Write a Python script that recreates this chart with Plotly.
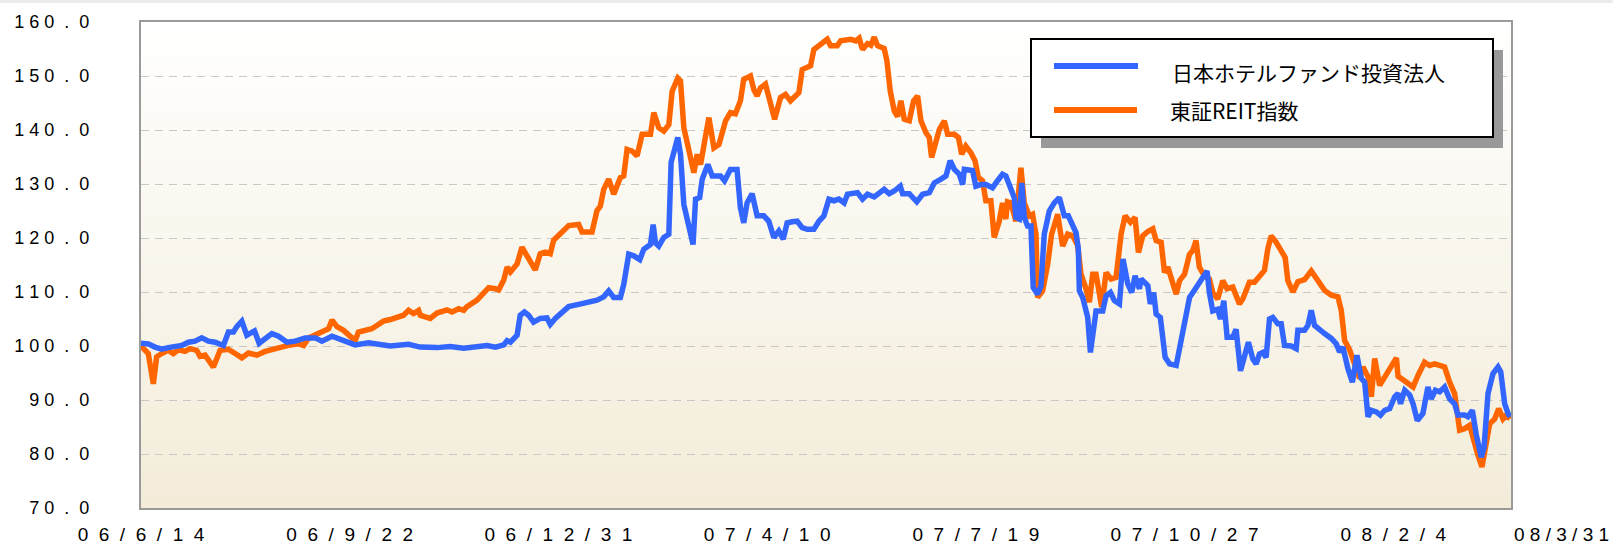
import pandas as pd
import plotly.graph_objects as go

# ---------------- data ----------------
start_date = "2006-06-14"   # day 0 of the horizontal axis

hotel_days = [0, 3.5, 6.7, 9.9, 13.1, 16.3, 19.5, 22.7, 25.9, 29.1, 32.3, 35.5, 39.5, 41.9, 44.3, 45.9, 48.3,
              50.7, 54.4, 56.6, 59.5, 62.7, 65.9, 69.9, 73.9, 78.7, 83.5, 86.7, 91.5, 97.8, 102.6, 109.0,
              113.0, 119.4, 128.2, 133.8, 141.8, 148.2, 154.6, 161.0, 165.8, 169.8, 173.8, 175.4, 177.0,
              180.2, 181.7, 183.7, 185.7, 188.1, 191.3, 194.5, 196.1, 198.5, 201.7, 204.9, 209.7, 213.7,
              218.5, 221.7, 224.1, 226.5, 229.7, 231.3, 233.7, 236.1, 239.0, 240.9, 244.1, 245.4, 246.5,
              248.1, 250.5, 252.9, 254.0, 257.2, 258.5, 260.1, 262.5, 264.5, 265.7, 267.7, 268.9, 271.6,
              273.7, 277.7, 279.6, 282.4, 285.6, 287.2, 288.8, 290.4, 292.8, 295.2, 298.4, 300.8, 303.2,
              305.6, 307.7, 309.6, 312.0, 314.4, 316.8, 319.2, 322.4, 324.8, 327.2, 329.6, 332.0, 334.4,
              336.9, 338.5, 343.3, 345.7, 348.1, 351.3, 356.1, 358.5, 360.9, 363.8, 364.9, 368.1, 371.7,
              374.5, 377.7, 380.1, 383.3, 385.7, 387.7, 389.7, 392.1, 393.7, 394.5, 398.4, 400.0, 402.4,
              404.8, 408.0, 410.4, 412.8, 414.4, 416.8, 418.4, 419.2, 420.8, 422.0, 423.2, 424.8, 426.4,
              427.5, 429.6, 431.2, 432.8, 435.2, 437.6, 440.0, 442.4, 444.3, 446.4, 448.0, 449.1, 449.6,
              451.2, 453.6, 454.9, 456.0, 457.6, 460.8, 462.4, 464.5, 466.4, 468.8, 470.5, 472.8, 474.7,
              476.3, 478.4, 479.2, 482.4, 483.6, 485.2, 486.4, 488.4, 490.7, 492.8, 496.0, 497.6, 499.2,
              502.4, 504.0, 506.3, 507.9, 510.8, 511.9, 513.5, 515.9, 517.2, 518.8, 520.4, 523.1, 524.7,
              526.8, 528.7, 530.6, 532.7, 534.3, 535.9, 537.5, 539.1, 540.7, 542.3, 544.7, 546.3, 547.9,
              551.1, 553.5, 554.3, 557.5, 559.1, 560.7, 562.3, 563.9, 567.1, 570.3, 572.7, 574.3, 575.9,
              578.3, 580.4, 582.6, 584.7, 586.3, 587.9, 589.5, 591.9, 593.9, 595.9, 598.3, 600.7, 602.3,
              603.5, 605.5, 607.9, 609.5, 611.5, 614.2, 616.6, 618.2, 620.2, 622.2, 624.6, 627.0, 629.4,
              631.0, 634.2, 635.8, 637.9, 639.8, 642.2, 643.5, 645.4, 647.8, 650.2, 651.5, 653.4, 655.0,
              656.0]
hotel_values = [100.5, 100.4, 99.8, 99.4, 99.7, 99.9, 100.1, 100.7, 100.9, 101.5, 100.9, 100.7, 100.1, 102.6,
                102.6, 103.6, 104.6, 102.0, 102.8, 100.5, 101.4, 102.3, 101.8, 100.7, 100.9, 101.5, 101.5,
                100.9, 101.8, 101.0, 100.2, 100.6, 100.3, 100.0, 100.3, 99.8, 99.7, 99.9, 99.6, 99.8, 100.1,
                99.8, 100.2, 101.0, 100.7, 102.0, 105.7, 106.3, 105.7, 104.4, 105.1, 105.2, 104.0, 105.1,
                106.1, 107.3, 107.7, 108.1, 108.5, 109.1, 110.2, 109.0, 109.0, 111.4, 117.0, 116.7, 116.0,
                117.9, 118.8, 122.5, 119.1, 118.5, 120.1, 120.7, 134.0, 138.6, 135.5, 126.2, 122.5, 118.8,
                127.2, 127.5, 130.9, 133.6, 131.5, 131.5, 130.6, 132.7, 132.7, 125.6, 122.8, 126.5, 128.2,
                124.1, 124.1, 123.1, 120.1, 121.3, 119.8, 122.8, 123.0, 123.1, 121.9, 121.6, 121.6, 123.1,
                124.1, 127.2, 126.9, 127.2, 126.5, 128.1, 128.4, 127.2, 128.1, 127.6, 129.0, 128.2, 128.7,
                129.6, 128.2, 128.2, 126.7, 128.1, 128.4, 130.2, 130.9, 131.5, 134.3, 132.7, 131.8, 129.9,
                132.7, 132.5, 129.6, 129.9, 129.9, 129.3, 130.6, 131.8, 131.5, 128.7, 127.5, 123.8, 123.5,
                130.2, 123.8, 122.2, 122.2, 110.8, 109.6, 111.1, 120.7, 125.0, 126.5, 127.5, 124.1, 124.1,
                122.3, 121.0, 118.0, 110.2, 109.0, 105.3, 98.8, 102.2, 106.5, 106.5, 109.3, 109.9, 108.4,
                107.8, 116.1, 111.5, 109.9, 113.0, 110.6, 112.4, 111.2, 107.8, 109.9, 105.9, 105.3, 97.9,
                96.7, 96.4, 99.4, 103.1, 109.0, 109.9, 111.2, 112.4, 113.9, 109.9, 106.5, 106.8, 105.0,
                108.4, 101.6, 101.6, 103.1, 95.4, 98.2, 100.7, 97.6, 96.7, 98.5, 98.8, 97.9, 105.0, 105.3,
                104.1, 104.1, 100.1, 100.0, 99.5, 102.9, 102.9, 103.8, 106.6, 103.8, 103.2, 102.3, 101.4,
                100.4, 98.9, 99.8, 95.8, 93.3, 98.3, 94.0, 93.3, 86.9, 88.1, 87.8, 87.2, 88.1, 88.4, 90.6,
                91.2, 89.3, 91.8, 90.9, 89.3, 86.2, 87.5, 92.4, 90.2, 91.8, 91.5, 92.4, 90.2, 89.3, 87.2,
                87.2, 86.9, 88.1, 83.5, 79.4, 81.2, 91.2, 94.9, 96.1, 95.2, 89.3, 87.5, 86.9]

reit_days = [0, 3.5, 5.9, 7.5, 9.9, 13.1, 15.5, 17.9, 21.1, 23.5, 26.7, 28.3, 30.7, 34.7, 37.9, 41.9, 45.1,
             48.3, 51.5, 55.5, 59.5, 64.3, 67.5, 71.5, 75.5, 77.9, 80.3, 84.3, 87.5, 89.9, 91.5, 93.9, 97.0,
             100.2, 102.6, 104.2, 107.4, 110.6, 113.0, 116.2, 119.4, 122.6, 125.8, 128.2, 130.6, 133.0,
             133.8, 136.2, 138.6, 141.8, 146.6, 149.0, 152.2, 154.6, 156.2, 161.0, 164.2, 166.6, 169.8,
             171.4, 173.8, 175.4, 177.0, 180.2, 182.5, 185.7, 188.9, 191.3, 193.7, 196.1, 197.7, 200.9,
             204.9, 209.7, 211.3, 216.1, 218.5, 220.1, 221.7, 224.1, 226.5, 229.7, 231.3, 232.9, 235.3,
             237.7, 240.1, 244.1, 245.7, 248.1, 250.5, 252.9, 254.5, 257.2, 258.5, 260.1, 262.5, 264.9,
             266.5, 268.1, 272.1, 274.5, 276.9, 280.1, 282.4, 284.8, 287.2, 288.8, 292.0, 293.6, 295.2,
             296.8, 299.2, 301.6, 303.6, 306.4, 308.8, 311.2, 315.2, 316.8, 320.8, 322.4, 325.6, 328.8,
             330.4, 333.6, 335.2, 336.9, 340.1, 342.5, 344.1, 345.7, 348.1, 349.7, 351.3, 352.9, 356.1,
             357.4, 359.0, 360.9, 362.5, 364.1, 365.7, 368.1, 370.2, 372.1, 373.7, 376.1, 377.7, 378.8,
             380.1, 382.5, 384.9, 386.5, 389.7, 391.7, 393.2, 395.2, 397.6, 399.6, 401.2, 403.2, 404.8,
             407.2, 408.8, 411.2, 412.8, 414.4, 415.2, 416.8, 419.2, 421.6, 423.2, 425.6, 427.2, 428.8,
             429.6, 432.0, 434.4, 436.3, 439.2, 441.6, 444.0, 446.4, 448.8, 450.4, 452.8, 454.4, 456.0,
             457.6, 460.3, 462.4, 464.8, 467.2, 469.6, 471.5, 474.1, 476.3, 477.9, 480.0, 482.4, 484.8,
             486.4, 488.8, 490.4, 492.0, 494.0, 496.0, 497.6, 500.0, 502.4, 504.0, 505.5, 507.1, 509.5,
             511.9, 513.5, 515.9, 518.3, 520.4, 523.1, 526.3, 527.9, 531.1, 533.5, 535.9, 538.3, 539.9,
             541.5, 543.9, 546.3, 548.2, 549.5, 551.9, 554.3, 557.5, 560.7, 563.9, 567.1, 570.3, 573.5,
             575.1, 576.7, 579.1, 581.5, 583.9, 585.5, 587.9, 589.5, 591.1, 593.5, 596.7, 599.1, 601.5,
             602.3, 606.3, 609.5, 611.9, 615.0, 617.4, 619.8, 622.2, 624.6, 627.0, 629.4, 631.8, 634.2,
             636.6, 639.0, 640.6, 642.5, 643.8, 646.2, 648.6, 650.5, 652.6, 654.2, 656.0]
reit_values = [100.0, 98.6, 93.0, 98.0, 98.6, 99.2, 98.6, 99.3, 99.0, 99.5, 99.2, 98.1, 98.3, 96.1, 99.2, 99.4,
               98.6, 97.8, 98.7, 98.3, 99.0, 99.5, 99.8, 100.2, 100.4, 100.1, 101.5, 102.3, 102.9, 103.2,
               104.8, 103.6, 102.9, 101.7, 101.0, 102.6, 102.9, 103.2, 103.8, 104.6, 104.9, 105.2, 105.7,
               106.6, 106.0, 106.6, 105.7, 105.4, 105.1, 106.1, 106.7, 106.3, 106.9, 106.6, 107.3, 108.5,
               109.7, 110.8, 110.6, 110.4, 112.2, 114.6, 113.7, 115.2, 118.3, 116.2, 114.1, 117.1, 117.4,
               117.1, 119.6, 120.8, 122.3, 122.5, 121.1, 121.1, 125.1, 125.9, 129.0, 130.9, 128.1, 131.2,
               131.5, 136.4, 136.1, 135.2, 139.2, 139.2, 143.2, 140.4, 139.8, 141.0, 147.2, 149.6, 149.1,
               140.4, 136.7, 132.1, 135.5, 133.6, 142.3, 136.7, 137.3, 141.7, 143.2, 143.0, 145.4, 149.4,
               150.0, 147.5, 146.3, 147.8, 148.5, 145.4, 142.0, 146.0, 146.6, 145.4, 146.9, 151.2, 151.9,
               154.9, 155.9, 156.8, 155.6, 155.6, 156.5, 156.6, 156.8, 156.5, 157.0, 154.9, 156.0, 155.7,
               157.2, 155.6, 155.1, 152.8, 147.2, 143.5, 142.5, 145.4, 142.0, 141.7, 145.4, 146.3, 141.7,
               139.5, 138.6, 134.9, 137.0, 140.1, 141.7, 139.2, 139.2, 138.6, 135.5, 137.0, 135.8, 134.3,
               131.2, 130.6, 126.9, 126.9, 120.1, 123.1, 126.5, 123.5, 126.7, 126.5, 123.1, 133.0, 126.5,
               124.1, 124.4, 120.7, 109.0, 110.2, 115.1, 120.7, 124.4, 118.5, 120.7, 120.4, 118.6, 113.3,
               110.6, 108.1, 113.3, 113.3, 107.2, 113.6, 112.4, 112.7, 120.7, 124.1, 122.9, 123.8, 117.3,
               120.4, 121.2, 121.7, 119.5, 119.2, 113.6, 114.6, 112.1, 109.6, 112.1, 113.3, 117.0, 117.7,
               119.5, 114.6, 113.0, 112.4, 109.9, 108.7, 112.1, 110.6, 110.9, 107.8, 108.7, 111.8, 111.8,
               113.0, 114.0, 118.0, 120.4, 119.2, 117.7, 116.4, 112.1, 110.0, 111.9, 112.3, 113.9, 111.9,
               110.3, 109.4, 109.1, 106.6, 101.0, 99.3, 96.4, 94.0, 96.1, 94.3, 90.6, 97.7, 92.7, 94.6,
               96.1, 97.8, 94.4, 93.3, 92.4, 94.6, 97.0, 96.4, 96.7, 96.4, 96.1, 93.3, 91.2, 84.4, 84.7,
               85.3, 81.7, 79.8, 77.6, 80.1, 85.6, 86.5, 88.4, 86.5, 87.2, 86.5]

series_names = ["日本ホテルファンド投資法人", "東証REIT指数"]
x_tick_dates = ["2006-06-14", "2006-09-22", "2006-12-31", "2007-04-10", "2007-07-19",
                "2007-10-27", "2008-02-04", "2008-03-31"]
x_tick_labels = ["06/6/14", "06/9/22", "06/12/31", "07/4/10", "07/7/19", "07/10/27", "08/2/4", "08/3/31"]
y_tick_values = [70, 80, 90, 100, 110, 120, 130, 140, 150, 160]
y_tick_labels = ["70.0", "80.0", "90.0", "100.0", "110.0", "120.0", "130.0", "140.0", "150.0", "160.0"]

# ---------------- styling ----------------
BLUE = "#3366FF"
ORANGE = "#FF6600"
NB = "\u00a0"
Y_FONT = dict(family="Liberation Sans, Arial, sans-serif", size=18, color="#000000")
X_FONT = dict(family="Liberation Sans, Arial, sans-serif", size=19, color="#000000")
CJK_FONT = dict(family="Noto Sans CJK JP, sans-serif", size=21, color="#000000")

W, H = 1613, 547
L, R, T, B = 141, 102, 22, 39
PW, PH = W - L - R, H - T - B


def spaced_x(s):
    return (NB * 2).join(list(s))


def spaced_y(s):
    whole, frac = s.split(".")
    return NB.join(list(whole)) + NB * 2 + "." + NB * 2 + frac


def px_x(px):
    return (px - L) / PW


def px_y(py):
    return (H - B - py) / PH


base = pd.Timestamp(start_date)
hotel_x = base + pd.to_timedelta(hotel_days, unit="D")
reit_x = base + pd.to_timedelta(reit_days, unit="D")

fig = go.Figure()
fig.add_trace(go.Scatter(x=reit_x, y=reit_values, mode="lines", name=series_names[1],
                         line=dict(color=ORANGE, width=5.5), showlegend=False))
fig.add_trace(go.Scatter(x=hotel_x, y=hotel_values, mode="lines", name=series_names[0],
                         line=dict(color=BLUE, width=5.5), showlegend=False))

shapes = []
# gradient plot background (white at top -> beige at bottom)
N = 60
top_rgb = (255, 255, 255)
bot_rgb = (243, 236, 217)
for i in range(N):
    t = (i + 0.5) / N  # 0 bottom .. 1 top
    c = tuple(round(bot_rgb[k] + (top_rgb[k] - bot_rgb[k]) * t) for k in range(3))
    shapes.append(dict(type="rect", xref="paper", yref="paper", x0=0, x1=1,
                       y0=i / N, y1=(i + 1) / N + 0.002, line=dict(width=0),
                       fillcolor="rgb(%d,%d,%d)" % c, layer="below"))
# thin grey strip at very top of the page
shapes.append(dict(type="rect", xref="paper", yref="paper", x0=px_x(-5), x1=px_x(W + 5),
                   y0=px_y(3), y1=px_y(-2), line=dict(width=0), fillcolor="#ebebeb", layer="below"))
# legend: shadow, box, sample lines
shapes.append(dict(type="rect", xref="paper", yref="paper", x0=px_x(1041), x1=px_x(1503),
                   y0=px_y(148), y1=px_y(50), line=dict(width=0), fillcolor="#999999", layer="above"))
shapes.append(dict(type="rect", xref="paper", yref="paper", x0=px_x(1031), x1=px_x(1493),
                   y0=px_y(137), y1=px_y(39), line=dict(width=2, color="#000000"),
                   fillcolor="#ffffff", layer="above"))
shapes.append(dict(type="line", xref="paper", yref="paper", x0=px_x(1054), x1=px_x(1138),
                   y0=px_y(66), y1=px_y(66), line=dict(width=6, color=BLUE), layer="above"))
shapes.append(dict(type="line", xref="paper", yref="paper", x0=px_x(1054), x1=px_x(1137),
                   y0=px_y(110), y1=px_y(110), line=dict(width=6, color=ORANGE), layer="above"))

annotations = [
    dict(xref="paper", yref="paper", x=px_x(1170), y=px_y(72), text=series_names[0],
         showarrow=False, xanchor="left", yanchor="middle", font=CJK_FONT),
    dict(xref="paper", yref="paper", x=px_x(1168), y=px_y(110), text=series_names[1],
         showarrow=False, xanchor="left", yanchor="middle", font=CJK_FONT),
    # last date label sits beyond the right edge of the plot, flush with the page edge
    dict(xref="paper", yref="paper", x=px_x(1611), y=px_y(534), text=NB.join(list(x_tick_labels[-1])),
         showarrow=False, xanchor="right", yanchor="middle", font=X_FONT),
]

fig.update_layout(
    width=W, height=H,
    margin=dict(l=L, r=R, t=T, b=B, pad=0),
    paper_bgcolor="#ffffff", plot_bgcolor="#ffffff",
    showlegend=False,
    shapes=shapes, annotations=annotations,
    xaxis=dict(type="date", range=[start_date, "2008-03-31 10:00"], automargin=False,
               tickmode="array", tickvals=x_tick_dates[:-1],
               ticktext=[spaced_x(s) for s in x_tick_labels[:-1]],
               tickfont=X_FONT, ticks="", ticklabelstandoff=8,
               showgrid=False, zeroline=False,
               showline=True, linecolor="#9a9a9a", linewidth=2, mirror=True),
    yaxis=dict(range=[70, 160], automargin=False, tickmode="array", tickvals=y_tick_values,
               ticktext=[spaced_y(s) for s in y_tick_labels],
               tickfont=Y_FONT, ticks="", ticklabelstandoff=46,
               showgrid=True, gridcolor="#c8c8c8", gridwidth=1, griddash="8px,6px",
               zeroline=False,
               showline=True, linecolor="#9a9a9a", linewidth=2, mirror=True),
)

# the page's default 8px body margin would offset the figure inside the window
fig.write_html("out.html",
               config={"displayModeBar": False},
               post_script="document.body.style.margin='0';document.body.style.padding='0';"
                           "document.body.style.overflow='hidden';")
